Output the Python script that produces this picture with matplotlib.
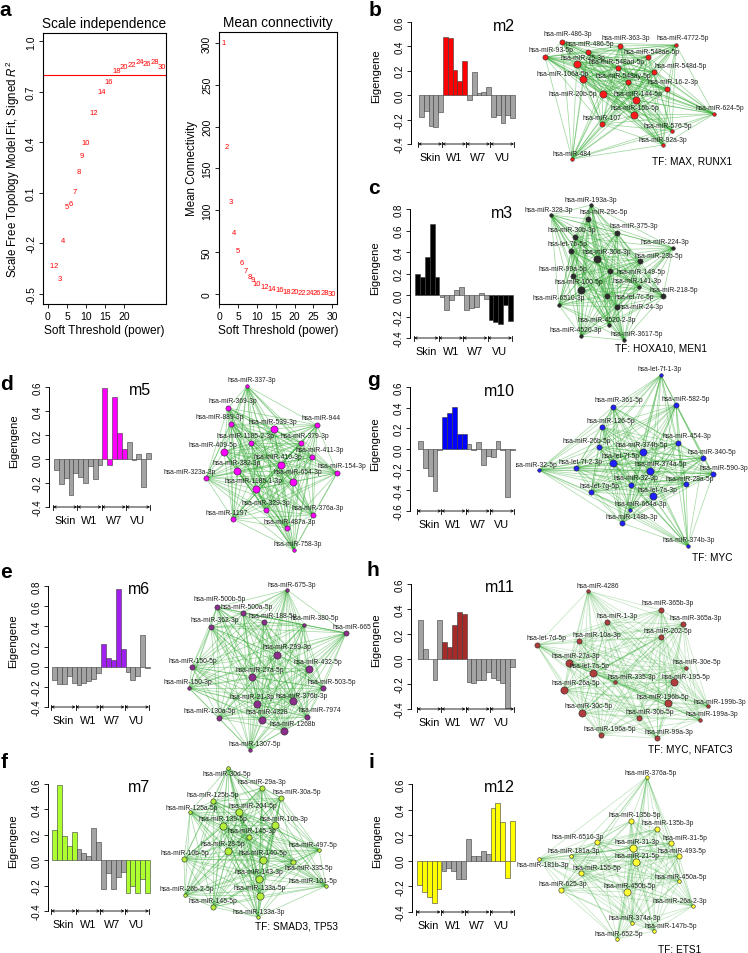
import itertools
import matplotlib
matplotlib.use('Agg')
import matplotlib.pyplot as plt
import numpy as np
from matplotlib.collections import LineCollection

plt.rcParams['font.family'] = ['Liberation Sans', 'DejaVu Sans']
plt.rcParams['mathtext.fontset'] = 'custom'
plt.rcParams['mathtext.rm'] = 'Liberation Sans'
plt.rcParams['mathtext.it'] = 'Liberation Sans:italic'

W, H = 748, 954

# ---------------- data ----------------
# panel a: soft threshold scan
powers = [1, 2, 3, 4, 5, 6, 7, 8, 9, 10, 12, 14, 16, 18, 20, 22, 24, 26, 28, 30]
fit_r2 = [-0.33, -0.33, -0.41, -0.18, 0.02, 0.04, 0.11, 0.23, 0.32, 0.40,
          0.58, 0.70, 0.76, 0.83, 0.85, 0.86, 0.88, 0.87, 0.88, 0.85]
mean_k = [300, 176, 111, 74, 52, 37, 28, 21, 17, 13,
          9, 6, 5, 3.5, 2.8, 2.2, 1.8, 1.5, 1.2, 1.0]
r2_cut = 0.8

groups = ['Skin', 'W1', 'W7', 'VU']

# module eigengenes, 5 samples per group
m2 = [-0.18, -0.13, -0.25, -0.26, -0.14, 0.48, 0.47, 0.21, 0.12, 0.28,
      -0.04, 0.19, 0.02, 0.03, 0.07, -0.18, -0.16, -0.23, -0.16, -0.19]
m3 = [0.20, 0.165, 0.35, 0.66, 0.17, -0.02, -0.14, -0.05, 0.05, 0.07,
      -0.14, -0.12, -0.11, 0.02, -0.04, -0.23, -0.25, -0.27, -0.09, -0.24]
m5 = [-0.09, -0.21, -0.16, -0.30, -0.12, -0.15, -0.20, -0.06, -0.17, -0.05,
      0.59, -0.05, 0.52, 0.22, 0.085, 0.14, -0.01, 0.04, -0.23, 0.05]
m6 = [-0.13, -0.17, -0.17, -0.09, -0.16, -0.18, -0.16, -0.14, -0.12, -0.06,
      0.22, 0.09, 0.07, 0.77, 0.18, -0.05, -0.13, -0.09, 0.31, -0.01]
m7 = [0.24, 0.59, 0.19, 0.11, 0.22, 0.085, 0.055, 0.035, 0.255, 0.14,
      -0.23, -0.10, -0.23, -0.13, -0.09, -0.26, -0.20, -0.26, -0.15, -0.26]
m10 = [0.08, -0.18, -0.26, -0.41, -0.005, 0.31, 0.35, 0.41, 0.15, 0.15,
       0.045, -0.01, 0.07, -0.15, -0.065, -0.075, 0.08, -0.01, -0.46, -0.01]
m11 = [0.31, 0.08, 0.0, -0.165, 0.315, 0.14, 0.10, 0.27, 0.38, 0.36,
       -0.18, -0.19, -0.17, -0.165, -0.10, -0.155, -0.165, -0.19, -0.39, -0.06]
m12 = [-0.19, -0.24, -0.28, -0.33, -0.22, -0.08, -0.06, -0.08, -0.145, -0.14,
       0.17, 0.04, 0.04, 0.08, 0.05, 0.41, 0.45, 0.30, -0.135, 0.31]

# groups in which each module is significant (coloured bars)
hi_m2 = ['W1']
hi_m3 = ['Skin', 'VU']
hi_m5 = ['W7']
hi_m6 = ['W7']
hi_m7 = ['Skin', 'VU']
hi_m10 = ['W1']
hi_m11 = ['W1']
hi_m12 = ['Skin', 'VU']

# network layouts: (miRNA, node x, node y, label x, label y, degree class)
nodes_m2 = [
    ("hsa-miR-486-3p", 562, 43, 568, 34, 2), ("hsa-miR-486-5p", 588, 53, 590, 44, 2),
    ("hsa-miR-363-3p", 620, 47, 626, 39, 2), ("hsa-miR-4772-5p", 676, 46, 683, 39, 1),
    ("hsa-miR-93-5p", 545, 58, 551, 51, 2), ("hsa-miR-548ae-5p", 648, 58, 652, 53, 2),
    ("hsa-miR-25-3p", 577, 65, 583, 59, 3), ("hsa-miR-548ad-5p", 618, 69, 617, 63, 2),
    ("hsa-miR-548d-5p", 654, 73, 681, 66, 2), ("hsa-miR-106a-5p", 583, 80, 563, 74, 3),
    ("hsa-miR-548ay-5p", 628, 83, 623, 76, 2), ("hsa-miR-16-2-3p", 667, 90, 673, 83, 2),
    ("hsa-miR-20b-5p", 603, 95, 573, 95, 3), ("hsa-miR-144-5p", 636, 101, 638, 95, 3),
    ("hsa-miR-624-5p", 714, 115, 720, 109, 1), ("hsa-miR-15b-5p", 634, 116, 635, 108, 3),
    ("hsa-miR-107", 602, 125, 602, 118, 2), ("hsa-miR-576-5p", 672, 132, 668, 126, 1),
    ("hsa-miR-92a-3p", 663, 146, 663, 140, 1), ("hsa-miR-484", 572, 160, 572, 155, 1),
]
nodes_m3 = [
    ("hsa-miR-193a-3p", 591, 206, 591, 200, 1), ("hsa-miR-328-3p", 551, 216, 549, 211, 1),
    ("hsa-miR-29c-5p", 588, 220, 604, 213, 2), ("hsa-miR-30b-3p", 575, 238, 572, 231, 2),
    ("hsa-miR-375-3p", 617, 234, 634, 227, 2), ("hsa-miR-224-3p", 673, 249, 665, 243, 1),
    ("hsa-let-7b-5p", 571, 252, 567, 245, 2), ("hsa-miR-30d-3p", 597, 260, 607, 253, 3),
    ("hsa-miR-23b-5p", 640, 262, 659, 256, 2), ("hsa-miR-99a-5p", 573, 277, 563, 270, 2),
    ("hsa-miR-149-5p", 610, 272, 641, 273, 2), ("hsa-miR-100-5p", 581, 291, 579, 283, 3),
    ("hsa-miR-141-3p", 639, 288, 637, 282, 1), ("hsa-miR-218-5p", 663, 297, 674, 291, 2),
    ("hsa-miR-6510-3p", 559, 306, 559, 299, 1), ("hsa-let-7c-5p", 607, 297, 634, 298, 2),
    ("hsa-miR-24-3p", 617, 308, 641, 308, 2), ("hsa-miR-4520-2-3p", 609, 326, 607, 321, 1),
    ("hsa-miR-4520-3p", 581, 337, 576, 331, 1), ("hsa-miR-3617-5p", 624, 341, 637, 335, 1),
]
nodes_m5 = [
    ("hsa-miR-337-3p", 247, 387, 252, 381, 1), ("hsa-miR-369-3p", 228, 409, 233, 402, 2),
    ("hsa-miR-889-3p", 231, 425, 220, 418, 2), ("hsa-miR-539-3p", 274, 430, 273, 423, 3),
    ("hsa-miR-944", 317, 426, 321, 419, 2), ("hsa-miR-1185-2-3p", 251, 444, 245, 437, 2),
    ("hsa-miR-379-3p", 301, 444, 305, 437, 2), ("hsa-miR-409-5p", 224, 453, 213, 446, 3),
    ("hsa-miR-411-3p", 312, 458, 320, 451, 2), ("hsa-miR-410-3p", 281, 466, 278, 458, 3),
    ("hsa-miR-382-3p", 237, 472, 237, 464, 3), ("hsa-miR-154-3p", 337, 474, 342, 467, 2),
    ("hsa-miR-323a-3p", 206, 479, 190, 473, 2), ("hsa-miR-654-3p", 293, 483, 298, 473, 3),
    ("hsa-miR-1185-1-3p", 256, 490, 254, 482, 3), ("hsa-miR-329-3p", 266, 511, 266, 504, 2),
    ("hsa-miR-376a-3p", 313, 516, 318, 509, 2), ("hsa-miR-1197", 233, 520, 227, 514, 2),
    ("hsa-miR-487a-3p", 287, 529, 290, 523, 2), ("hsa-miR-758-3p", 294, 551, 298, 545, 1),
]
nodes_m6 = [
    ("hsa-miR-675-3p", 287, 591, 292, 586, 1), ("hsa-miR-500b-5p", 217, 608, 220, 600, 2),
    ("hsa-miR-500a-5p", 243, 614, 247, 608, 2), ("hsa-miR-188-5p", 264, 623, 273, 617, 2),
    ("hsa-miR-380-5p", 304, 626, 315, 619, 1), ("hsa-miR-665", 346, 634, 352, 628, 2),
    ("hsa-miR-362-3p", 211, 628, 215, 621, 2), ("hsa-miR-299-3p", 277, 656, 287, 648, 3),
    ("hsa-miR-150-5p", 192, 668, 193, 662, 2), ("hsa-miR-432-5p", 309, 670, 318, 663, 3),
    ("hsa-miR-27a-5p", 252, 678, 260, 671, 3), ("hsa-miR-150-3p", 189, 689, 188, 683, 1),
    ("hsa-miR-503-5p", 323, 689, 332, 683, 2), ("hsa-miR-376b-3p", 293, 702, 302, 697, 3),
    ("hsa-miR-21-3p", 257, 705, 252, 698, 3), ("hsa-miR-130a-5p", 219, 719, 210, 712, 2),
    ("hsa-miR-4328", 262, 721, 267, 713, 3), ("hsa-miR-7974", 307, 718, 320, 711, 2),
    ("hsa-miR-1268b", 284, 732, 293, 725, 3), ("hsa-miR-1307-5p", 250, 751, 255, 745, 1),
]
nodes_m7 = [
    ("hsa-miR-30d-5p", 228, 769, 227, 775, 1), ("hsa-miR-29a-3p", 262, 789, 262, 783, 2),
    ("hsa-miR-30a-5p", 281, 799, 297, 793, 2), ("hsa-miR-125b-5p", 213, 802, 213, 796, 2),
    ("hsa-miR-125a-5p", 190, 813, 192, 809, 1), ("hsa-miR-204-5p", 239, 813, 253, 807, 3),
    ("hsa-miR-139-5p", 223, 827, 223, 820, 3), ("hsa-miR-10b-3p", 275, 826, 284, 820, 3),
    ("hsa-miR-145-3p", 249, 838, 252, 832, 2), ("hsa-miR-28-5p", 228, 852, 223, 845, 3),
    ("hsa-miR-497-5p", 319, 851, 313, 846, 1), ("hsa-miR-10b-5p", 184, 860, 185, 854, 2),
    ("hsa-miR-140-5p", 263, 861, 263, 854, 3), ("hsa-miR-335-5p", 293, 863, 309, 869, 2),
    ("hsa-miR-143-3p", 259, 880, 259, 873, 3), ("hsa-miR-101-5p", 326, 887, 313, 882, 1),
    ("hsa-miR-26b-2-5p", 185, 896, 187, 890, 1), ("hsa-miR-133a-5p", 260, 897, 260, 889, 3),
    ("hsa-miR-145-5p", 213, 908, 213, 902, 2), ("hsa-miR-133a-3p", 258, 918, 259, 913, 1),
]
nodes_m10 = [
    ("hsa-let-7f-1-3p", 661, 376, 660, 370, 1), ("hsa-miR-361-5p", 613, 408, 619, 401, 2),
    ("hsa-miR-582-5p", 676, 406, 686, 400, 2), ("hsa-miR-126-5p", 602, 428, 611, 422, 2),
    ("hsa-miR-26b-5p", 599, 448, 587, 442, 2), ("hsa-miR-454-3p", 678, 444, 687, 437, 2),
    ("hsa-miR-374b-5p", 643, 453, 642, 446, 3), ("hsa-miR-340-5p", 703, 459, 712, 453, 2),
    ("hsa-let-7f-5p", 613, 464, 621, 457, 3), ("hsa-miR-32-5p", 539, 471, 535, 466, 1),
    ("hsa-let-7f-2-3p", 576, 469, 581, 463, 2), ("hsa-miR-374a-5p", 650, 472, 661, 465, 3),
    ("hsa-miR-590-3p", 713, 475, 724, 469, 2), ("hsa-miR-32-3p", 631, 486, 636, 479, 2),
    ("hsa-miR-28a-5p", 686, 485, 690, 480, 2), ("hsa-let-7g-5p", 591, 493, 599, 487, 2),
    ("hsa-let-7a-3p", 653, 497, 657, 491, 3), ("hsa-miR-664a-3p", 630, 511, 641, 505, 1),
    ("hsa-miR-148b-3p", 622, 524, 632, 518, 2), ("hsa-miR-374b-3p", 688, 547, 689, 541, 1),
]
nodes_m11 = [
    ("hsa-miR-4286", 588, 592, 598, 587, 1), ("hsa-miR-365b-3p", 661, 611, 668, 604, 2),
    ("hsa-miR-365a-3p", 683, 625, 696, 619, 2), ("hsa-miR-1-3p", 607, 623, 617, 617, 2),
    ("hsa-miR-202-5p", 661, 638, 668, 632, 2), ("hsa-let-7d-5p", 537, 646, 546, 639, 2),
    ("hsa-miR-10a-3p", 579, 642, 597, 636, 2), ("hsa-miR-27a-3p", 569, 664, 576, 657, 3),
    ("hsa-miR-30e-5p", 686, 669, 697, 663, 1), ("hsa-let-7a-5p", 593, 674, 589, 667, 3),
    ("hsa-miR-335-3p", 615, 683, 632, 678, 1), ("hsa-miR-195-5p", 674, 683, 686, 678, 3),
    ("hsa-miR-26a-5p", 564, 691, 576, 684, 3), ("hsa-miR-196b-5p", 668, 704, 663, 698, 3),
    ("hsa-miR-199b-3p", 708, 707, 720, 703, 1), ("hsa-miR-30c-5p", 582, 714, 589, 707, 3),
    ("hsa-miR-30b-5p", 639, 719, 650, 713, 2), ("hsa-miR-199a-3p", 700, 721, 712, 715, 1),
    ("hsa-miR-196a-5p", 601, 736, 610, 730, 2), ("hsa-miR-99a-3p", 657, 739, 669, 733, 2),
]
nodes_m12 = [
    ("hsa-miR-376a-5p", 647, 778, 651, 774, 1), ("hsa-miR-135b-5p", 631, 822, 635, 816, 2),
    ("hsa-miR-135b-3p", 657, 830, 668, 824, 2), ("hsa-miR-6516-3p", 597, 843, 578, 838, 2),
    ("hsa-miR-31-3p", 633, 849, 637, 843, 3), ("hsa-miR-31-5p", 671, 844, 685, 839, 2),
    ("hsa-miR-181a-3p", 571, 857, 574, 852, 1), ("hsa-miR-493-5p", 679, 857, 682, 852, 2),
    ("hsa-miR-21-5p", 636, 863, 637, 857, 3), ("hsa-miR-181b-3p", 539, 860, 543, 866, 1),
    ("hsa-miR-155-5p", 581, 874, 597, 869, 2), ("hsa-miR-450a-5p", 679, 882, 681, 878, 1),
    ("hsa-miR-625-3p", 561, 891, 563, 885, 2), ("hsa-miR-450b-5p", 627, 893, 630, 887, 3),
    ("hsa-miR-26a-2-3p", 693, 907, 680, 902, 1), ("hsa-miR-374a-3p", 632, 924, 635, 919, 1),
    ("hsa-miR-147b-5p", 654, 932, 671, 927, 1), ("hsa-miR-652-5p", 617, 940, 619, 935, 1),
]

# transcription factors enriched for each module
tf_m2 = "TF: MAX, RUNX1"
tf_m3 = "TF: HOXA10, MEN1"
tf_m7 = "TF: SMAD3, TP53"
tf_m10 = "TF: MYC"
tf_m11 = "TF: MYC, NFATC3"
tf_m12 = "TF: ETS1"

# ---------------- figure ----------------
fig = plt.figure(figsize=(W / 100, H / 100), dpi=100)


def px_rect(left, top, right, bottom):
    return [left / W, 1 - bottom / H, (right - left) / W, (bottom - top) / H]


# network canvas (in layout pixel units), drawn under everything else
net = fig.add_axes([0, 0, 1, 1])
net.set_xlim(0, W)
net.set_ylim(H, 0)
net.axis('off')


def draw_network(nodes, color, alpha, tf=None, tf_xy=None):
    xy = [(n[1], n[2]) for n in nodes]
    segs = [[a, b] for a, b in itertools.combinations(xy, 2)]
    net.add_collection(LineCollection(segs, colors='#2ea82e', linewidths=0.55,
                                      alpha=alpha, zorder=1))
    sizes = {1: 3.6, 2: 5.2, 3: 7.2}
    for name, x, y, lx, ly, w in nodes:
        d = sizes[w] * 0.72
        net.scatter(x, y, s=d ** 2, color=color, edgecolors='#2a2a2a',
                    linewidths=0.4, zorder=3)
        net.text(lx, ly, name, fontsize=4.9, color='#222222',
                 ha='center', va='center', zorder=4)
    if tf:
        net.text(tf_xy[0], tf_xy[1], tf, fontsize=7.3, ha='center', va='center')


draw_network(nodes_m2, '#ff1a1a', 0.45, tf_m2, (692, 162))
draw_network(nodes_m3, '#2b2b2b', 0.45, tf_m3, (661, 349))
draw_network(nodes_m5, '#ff00ff', 0.45)
draw_network(nodes_m6, '#8b2e8b', 0.42)
draw_network(nodes_m7, '#b3ee3a', 0.42, tf_m7, (297, 927))
draw_network(nodes_m10, '#1f1fff', 0.40, tf_m10, (712, 558))
draw_network(nodes_m11, '#b03c3c', 0.28, tf_m11, (690, 750))
draw_network(nodes_m12, '#ffff33', 0.28, tf_m12, (680, 950))

# ---------------- panel a ----------------
def r_style(ax, fs=7.5):
    for s in ax.spines.values():
        s.set_linewidth(0.8)
    ax.tick_params(direction='out', length=3, width=0.6, labelsize=fs, pad=2)


ax1 = fig.add_axes(px_rect(43, 34, 166, 305))
for p, v in zip(powers, fit_r2):
    ax1.text(p, v, str(p), color='red', fontsize=5.5, ha='center', va='center')
ax1.axhline(r2_cut, color='red', lw=0.8)
ax1.set_xlim(-1.3, 31.0)
ax1.set_ylim(-0.56, 1.05)
ax1.set_xticks([0, 5, 10, 15, 20])
yt = [-0.5, -0.2, 0.1, 0.4, 0.7, 1.0]
ax1.set_yticks(yt)
ax1.set_yticklabels(['%.1f' % t for t in yt], rotation=90, va='center')
ax1.set_title('Scale independence', fontsize=9.8, pad=4)
ax1.set_xlabel('Soft Threshold (power)', fontsize=8.6, labelpad=2)
ax1.set_ylabel('Scale Free Topology Model Fit, Signed $R^2$', fontsize=8.3, labelpad=3)
r_style(ax1)

ax2 = fig.add_axes(px_rect(219, 33, 337, 305))
for p, v in zip(powers, mean_k):
    ax2.text(p, v, str(p), color='red', fontsize=5.5, ha='center', va='center')
ax2.set_xlim(-0.1, 31.3)
ax2.set_ylim(-12, 313)
ax2.set_xticks(range(0, 31, 5))
yt2 = list(range(0, 301, 50))
ax2.set_yticks(yt2)
ax2.set_yticklabels([str(t) for t in yt2], rotation=90, va='center')
ax2.set_title('Mean connectivity', fontsize=9.8, pad=4)
ax2.set_xlabel('Soft Threshold (power)', fontsize=8.6, labelpad=2)
ax2.set_ylabel('Mean Connectivity', fontsize=8.3, labelpad=3)
r_style(ax2)


# ---------------- eigengene bar panels ----------------
def bar_panel(layout, values, hi, color, name):
    spine_x, bar_l, bar_r, ytop_px, ybot_px, top_t, bot_t = layout
    ppu = (ybot_px - ytop_px) / (top_t - bot_t)
    yhi = top_t + 0.12
    ax_top = ytop_px - (yhi - top_t) * ppu
    right = bar_r + 1
    ax = fig.add_axes(px_rect(spine_x, ax_top, right, ybot_px))
    n = len(values)
    ppb = (bar_r - bar_l) / n
    ax.set_xlim(-0.5 - (bar_l - spine_x) / ppb, n - 0.5 + 1 / ppb)
    ax.set_ylim(bot_t, yhi)
    x = np.arange(n)
    cols = [color if groups[i // 5] in hi else '#a3a3a3' for i in range(n)]
    ax.bar(x, values, width=1.0, color=cols, edgecolor='#3a3a3a', linewidth=0.4)
    for s in ['top', 'right', 'bottom']:
        ax.spines[s].set_visible(False)
    ax.spines['left'].set_bounds(bot_t, top_t)
    ax.spines['left'].set_linewidth(0.7)
    ticks = np.round(np.arange(bot_t, top_t + 0.01, 0.2), 1)
    ax.set_yticks(ticks)
    ax.set_yticklabels(['%.1f' % t for t in ticks], rotation=90, va='center')
    ax.tick_params(axis='y', direction='out', length=3, width=0.6, labelsize=7, pad=1.5)
    ax.set_xticks([])
    ax.set_ylabel('Eigengene', fontsize=8)
    ax.yaxis.set_label_coords(-30 / (right - spine_x), 0.5)
    # group brackets
    edges = [-0.7, 4.3, 9.3, 14.3, 19.3]
    tick_h = 2.5 / ppu
    for k, g in enumerate(groups):
        ax.annotate('', xy=(edges[k + 1], bot_t), xytext=(edges[k], bot_t),
                    arrowprops=dict(arrowstyle='<->', lw=0.6, color='k',
                                    shrinkA=0, shrinkB=0, mutation_scale=4),
                    annotation_clip=False)
        ax.text((edges[k] + edges[k + 1]) / 2, bot_t - 13 / ppu, g,
                fontsize=7.8, ha='center', va='center')
    for e in edges:
        ax.plot([e, e], [bot_t - tick_h, bot_t + tick_h], color='k', lw=0.6,
                clip_on=False)
    ax.text(n - 0.5, top_t - 3 / ppu, name, fontsize=11.5, ha='right', va='center')
    return ax


bar_panel((411, 419, 515, 23, 145, 0.6, -0.4), m2, hi_m2, '#ff0000', 'm2')
bar_panel((410, 415, 513, 210, 339, 0.8, -0.4), m3, hi_m3, '#000000', 'm3')
bar_panel((49, 54, 151, 388, 508, 0.6, -0.4), m5, hi_m5, '#ff00ff', 'm5')
bar_panel((48, 52, 150, 587, 708, 0.8, -0.4), m6, hi_m6, '#a020f0', 'm6')
bar_panel((48, 52, 150, 785, 912, 0.6, -0.4), m7, hi_m7, '#adff2f', 'm7')
bar_panel((410, 418, 515, 388, 512, 0.6, -0.6), m10, hi_m10, '#0000ff', 'm10')
bar_panel((411, 418, 515, 585, 710, 0.6, -0.4), m11, hi_m11, '#a52a2a', 'm11')
bar_panel((412, 417, 515, 785, 913, 0.6, -0.4), m12, hi_m12, '#ffff00', 'm12')

# panel letters
letters = ['a', 'b', 'c', 'd', 'e', 'f', 'g', 'h', 'i']
letter_xy = [(5, 10), (375, 10), (374, 188), (7, 385), (6, 572), (4, 762),
             (373, 380), (373, 571), (371, 762)]
for t, (x, y) in zip(letters, letter_xy):
    fig.text(x / W, 1 - y / H, t, fontsize=15, fontweight='bold',
             ha='center', va='center')

fig.savefig('out.png', dpi=100)
